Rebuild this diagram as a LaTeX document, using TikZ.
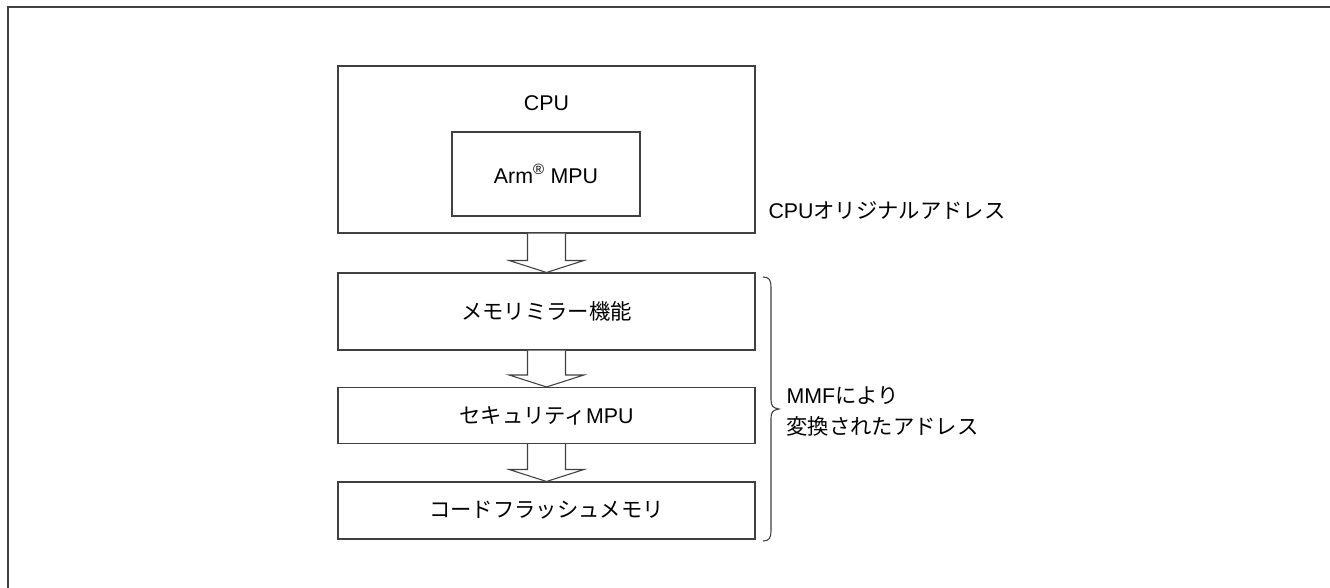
\documentclass[tikz,border=0pt]{standalone}
\usepackage{fontspec}
\setmainfont{Liberation Sans}
\newfontfamily\jp{Noto Sans CJK JP}
\usetikzlibrary{calc}
\begin{document}
\begin{tikzpicture}[x=0.75pt,y=-0.75pt,
  line width=0.8pt,
  lc/.style={draw=black!75},
  boxstyle/.style={lc, rectangle, minimum width=417*0.75pt, inner sep=0pt},
  lbl/.style={font=\fontsize{16}{19}\selectfont, inner sep=0pt},
  bigarrow/.style={lc, fill=white, line join=miter}]
\useasboundingbox (0,0) rectangle (1330,588);
% frame (top and left)
\draw[black!75, line width=1.6pt] (1330,7) -- (8,7) -- (8,588);

% boxes
\node[boxstyle, minimum height=167*0.75pt] (cpu) at (546.5,149.5) {};
\node[lbl] (cpulbl) at (546.5,103) {CPU};
\node[lc, rectangle, minimum width=188*0.75pt, minimum height=84*0.75pt, inner sep=0pt,
      lbl] (arm) at (546,174) {Arm\textsuperscript{®} MPU};
\node[boxstyle, minimum height=77*0.75pt, lbl] (mirror) at (546.5,311.5) {{\jp メモリミラー機能}};
\node[boxstyle, minimum height=56*0.75pt, lbl] (secmpu) at (546.5,415.5) {{\jp セキュリティ}MPU};
\node[boxstyle, minimum height=57*0.75pt, lbl] (flash) at (546.5,510.5) {{\jp コードフラッシュメモリ}};

% block arrows
\foreach \a/\b in {cpu/mirror, mirror/secmpu, secmpu/flash}{
  \draw[bigarrow]
    ($(\a.south)+(-19,0)$) -- ($(\b.north)+(-19,-12)$) -- ($(\b.north)+(-37.5,-12)$)
    -- (\b.north) -- ($(\b.north)+(37.5,-12)$) -- ($(\b.north)+(19,-12)$)
    -- ($(\a.south)+(19,0)$);
}

% right labels
\node[lbl, anchor=west] (orig) at (768,210) {CPU{\jp オリジナルアドレス}};

% brace
\coordinate (bt) at (763,277);
\coordinate (bm) at (779,409);
\coordinate (bb) at (763,541);
\draw[lc] (bt) .. controls (769,277) and (771,280) .. (771,287)
  -- (771,400) .. controls (771,406) and (773,408) .. (bm)
  .. controls (773,410) and (771,412) .. (771,418)
  -- (771,531) .. controls (771,538) and (769,541) .. (bb);

\node[lbl, anchor=west] (mmf1) at (786,396) {MMF{\jp により}};
\node[lbl, anchor=west] (mmf2) at (786,426) {{\jp 変換されたアドレス}};
\end{tikzpicture}
\end{document}
